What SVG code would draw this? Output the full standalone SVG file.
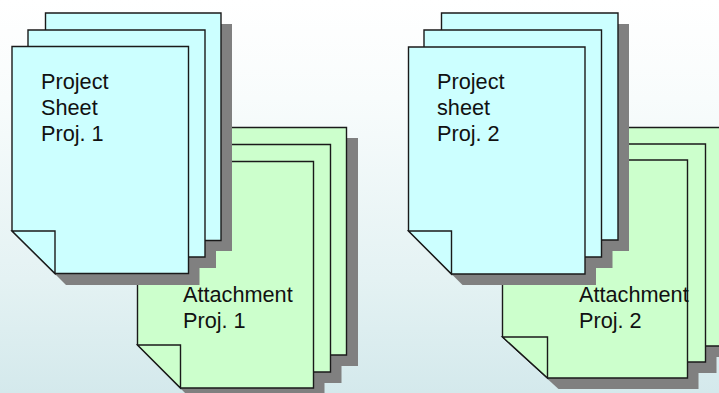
<svg xmlns="http://www.w3.org/2000/svg" width="719" height="393" viewBox="0 0 719 393">
  <style>
    .shadow { fill: #808080; stroke: none; }
    .blue { fill: #ccffff; stroke: #1a1a1a; stroke-width: 1.4; stroke-linejoin: miter; }
    .green { fill: #ccffcc; stroke: #1a1a1a; stroke-width: 1.4; stroke-linejoin: miter; }
    text { font-family: "Liberation Sans", Arial, sans-serif; font-size: 21.7px; fill: #111111; }
  </style>
  <defs>
    <linearGradient id="bg" x1="0" y1="0" x2="0" y2="1">
      <stop offset="0" stop-color="#ffffff"/>
      <stop offset="0.25" stop-color="#f8fcfc"/>
      <stop offset="0.71" stop-color="#e4f2f3"/>
      <stop offset="1" stop-color="#d4e9ec"/>
    </linearGradient>
  </defs>
  <rect width="719" height="393" fill="url(#bg)"/>

  <g id="attachment-1">
    <path class="shadow" d="M182 138H358V366H226L182 323Z"/>
    <path class="shadow" d="M165 155H341.500V383H209L165 340Z"/>
    <path class="shadow" d="M148.500 172H324.500V399H191L148.500 356Z"/>
    <path class="green" d="M171 127.500H346.500V355H214.500L171 312Z"/>
    <path class="green" d="M154 144.500H330.500V372H197.500L154 329Z"/>
    <path class="green" d="M137.500 161.500H313.500V388H180.500L137.500 345Z"/>
    <path class="green" d="M137.500 345H180.500V388Z"/>
    <text x="183" y="302">Attachment</text>
    <text x="183" y="328">Proj. 1</text>
  </g>

  <g id="project-sheet-1">
    <path class="shadow" d="M56.500 24H232V251H100L56.500 208Z"/>
    <path class="shadow" d="M39 41H216V268H83L39 225Z"/>
    <path class="shadow" d="M23 57.500H199.500V285H66L23 242Z"/>
    <path class="blue" d="M45.500 13H221V240.500H89L45.500 198Z"/>
    <path class="blue" d="M28 30H205V257H72L28 214Z"/>
    <path class="blue" d="M12 46.500H188.500V273.500H55L12 231Z"/>
    <path class="blue" d="M12 231H55V273.500Z"/>
    <text x="41" y="89">Project</text>
    <text x="41" y="115">Sheet</text>
    <text x="41" y="141">Proj. 1</text>
  </g>

  <g id="attachment-2">
    <path class="shadow" d="M548 138H733V357H592L548 316Z"/>
    <path class="shadow" d="M531 155H716.500V373H574L531 332Z"/>
    <path class="shadow" d="M513.500 171H698.500V389H558.500L513.500 348Z"/>
    <path class="green" d="M537 127.500H722V346H581L537 305Z"/>
    <path class="green" d="M520 144H705.500V362H563L520 321Z"/>
    <path class="green" d="M502.500 160H687.500V378H547.500L502.500 337Z"/>
    <path class="green" d="M502.500 337H547.500V378Z"/>
    <text x="579" y="302">Attachment</text>
    <text x="579" y="328">Proj. 2</text>
  </g>

  <g id="project-sheet-2">
    <path class="shadow" d="M452.500 24H629V251H496L452.500 208Z"/>
    <path class="shadow" d="M435 41H612.500V268H479L435 225Z"/>
    <path class="shadow" d="M419.500 58H596V285H462.500L419.500 242Z"/>
    <path class="blue" d="M441.500 13H618V240H485L441.500 198Z"/>
    <path class="blue" d="M424 30H601.500V257H468L424 214Z"/>
    <path class="blue" d="M408.500 47H585V274H451.500L408.500 231Z"/>
    <path class="blue" d="M408.500 231H451.500V274Z"/>
    <text x="437" y="89">Project</text>
    <text x="437" y="115">sheet</text>
    <text x="437" y="141">Proj. 2</text>
  </g>

  <g id="connectors"></g>
</svg>
